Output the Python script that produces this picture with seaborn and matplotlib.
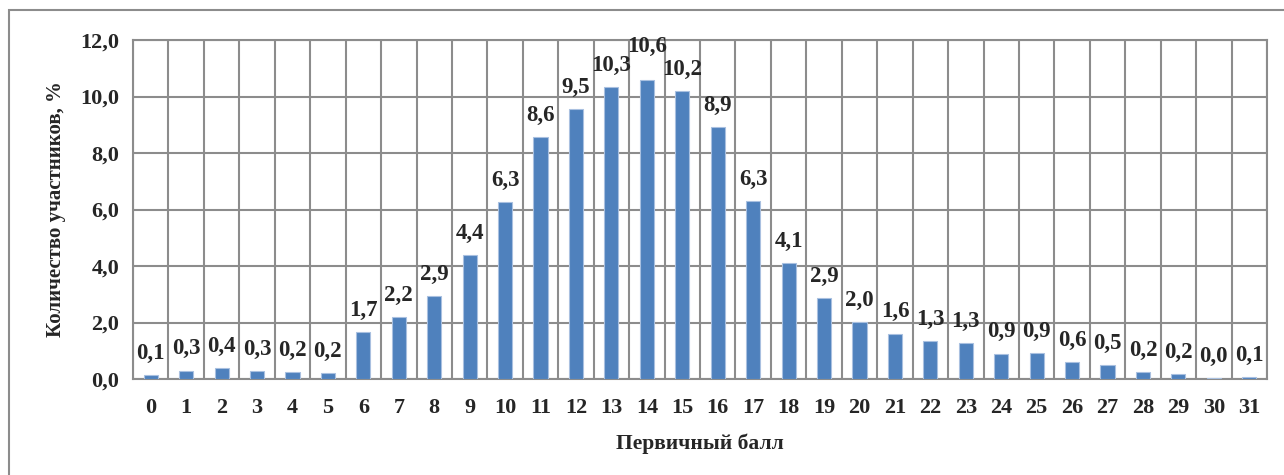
import numpy as np
import pandas as pd
import matplotlib
matplotlib.use("Agg")
import matplotlib.pyplot as plt
import seaborn as sns
from matplotlib.patches import Rectangle

scores = list(range(32))
percent = [0.14, 0.30, 0.38, 0.28, 0.24, 0.22, 1.67, 2.20, 2.93, 4.40, 6.27, 8.56,
           9.54, 10.34, 10.57, 10.19, 8.91, 6.29, 4.12, 2.87, 2.02, 1.61, 1.34, 1.27,
           0.90, 0.92, 0.59, 0.48, 0.24, 0.19, 0.03, 0.06]
ylabel = "Количество участников, %"
xlabel = "Первичный балл"

sns.set_theme(style="white")
plt.rcParams['font.family'] = ['Liberation Serif', 'DejaVu Serif']
plt.rcParams['font.weight'] = 'bold'

df = pd.DataFrame({"score": [str(s) for s in scores], "pct": percent})

fig = plt.figure(figsize=(12.84, 4.75), dpi=100)
ax = fig.add_axes([133/1284, 1-379/475, (1267-133)/1284, (379-40)/475])

grid_c = "#8c8c8c"
sns.barplot(data=df, x="score", y="pct", color="#4F81BD", width=0.4,
            saturation=1, edgecolor="#a9c0e0", linewidth=0.8, ax=ax, zorder=3)

ax.set_xlim(-0.5, len(scores) - 0.5)
ax.set_ylim(0, 12)
yt = np.arange(0, 12.1, 2)
ax.set_yticks(yt)
ax.set_yticklabels([f"{v:.1f}".replace(".", ",") for v in yt], fontsize=16, fontweight='bold')
ax.set_xticks(range(len(scores)))
ax.set_xticklabels([str(s) for s in scores], fontsize=16, fontweight='bold')
ax.set_xticks(np.arange(-0.5, len(scores)), minor=True)
ax.tick_params(axis='x', which='major', length=0, pad=14)
ax.tick_params(axis='x', which='minor', length=7, width=1.5, color=grid_c, direction='out')
ax.tick_params(axis='y', which='major', length=6, width=1.5, color=grid_c, direction='out', pad=4)

ax.grid(True, axis='y', which='major', color=grid_c, linewidth=1.5, zorder=0)
ax.grid(True, axis='x', which='minor', color=grid_c, linewidth=1.5, zorder=0)
ax.set_axisbelow(True)
for s in ax.spines.values():
    s.set_color(grid_c)
    s.set_linewidth(1.5)

labels = [f"{v:.1f}".replace(".", ",") for v in percent]
texts = ax.bar_label(ax.containers[0], labels=labels, padding=8, fontsize=16.5, fontweight='bold')
imax = int(np.argmax(percent))
texts[imax].set_position((0, 8 + 9))

ax.set_xlabel(xlabel, fontsize=15.5, fontweight='bold', labelpad=11)
ax.set_ylabel(ylabel, fontsize=15, fontweight='bold', labelpad=10)

fig.patches.append(Rectangle((9/1284, -0.1), 1.2, 1 - 10/475 + 0.1, transform=fig.transFigure,
                             fill=False, edgecolor="#8c8c8c", linewidth=1.5))

fig.savefig("out.png", dpi=100)
